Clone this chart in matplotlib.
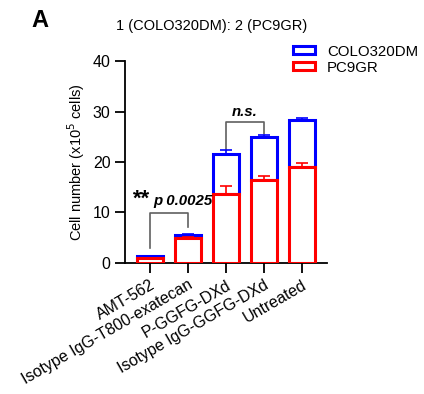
import matplotlib.pyplot as plt
import matplotlib.patches as mpatches

plt.rcParams['font.family'] = ['Liberation Sans', 'DejaVu Sans']

groups = ['AMT-562', 'Isotype IgG-T800-exatecan', 'P-GGFG-DXd',
          'Isotype IgG-GGFG-DXd', 'Untreated']
pc9gr = [0.9, 5.0, 13.7, 16.5, 18.95]
pc9gr_err = [0.1, 0.2, 1.5, 0.7, 0.8]
colo_total = [1.3, 5.6, 21.5, 24.95, 28.4]
colo_err = [0.1, 0.15, 0.8, 0.4, 0.4]

blue = '#0000ff'
red = '#ff0000'

fig = plt.figure(figsize=(4.24, 3.94), dpi=100)
ax = fig.add_axes([0.295, 0.333, 0.476, 0.512])

x = list(range(len(groups)))
w = 0.68
colo_part = [t - r for t, r in zip(colo_total, pc9gr)]
ax.bar(x, colo_part, w, bottom=pc9gr, facecolor='white', edgecolor=blue, linewidth=2.2, zorder=2)
ax.bar(x, pc9gr, w, facecolor='white', edgecolor=red, linewidth=2.2, zorder=3)
ax.errorbar(x, colo_total, yerr=[[0] * 5, colo_err], fmt='none', ecolor=blue,
            elinewidth=1.2, capsize=4, capthick=1.2, zorder=4)
ax.errorbar(x, pc9gr, yerr=[[0] * 5, pc9gr_err], fmt='none', ecolor=red,
            elinewidth=1.2, capsize=4, capthick=1.2, zorder=4)

# significance brackets
gray = '#606060'
ax.plot([0, 0, 1, 1], [2.85, 9.8, 9.8, 7.1], color=gray, lw=1.2)
ax.text(-0.27, 12.6, '**', fontsize=16, fontweight='bold', fontstyle='italic', ha='center', va='center')
ax.text(0.08, 12.2, 'p 0.0025', fontsize=10.8, fontweight='bold', fontstyle='italic', ha='left', va='center')
ax.plot([2, 2, 3, 3], [22.4, 28.0, 28.0, 25.6], color=gray, lw=1.2)
ax.text(2.5, 28.6, 'n.s.', fontsize=10.8, fontweight='bold', fontstyle='italic', ha='center', va='bottom')

ax.set_xlim(-0.66, 4.66)
ax.set_ylim(0, 40)
ax.set_yticks([0, 10, 20, 30, 40])
ax.set_xticks(x)
ax.set_xticklabels(groups, rotation=30, ha='right', rotation_mode='anchor', fontsize=11.5)
ax.tick_params(axis='both', direction='out', length=7, width=1.3, labelsize=11.5)
ax.spines['top'].set_visible(False)
ax.spines['right'].set_visible(False)
ax.spines['left'].set_linewidth(1.3)
ax.spines['bottom'].set_linewidth(1.3)
ax.set_ylabel('Cell number (x10$^5$ cells)', fontsize=10.5)

fig.text(0.5, 0.934, '1 (COLO320DM): 2 (PC9GR)', fontsize=10.5, ha='center', va='center')
fig.text(0.094, 0.949, 'A', fontsize=17, fontweight='bold', ha='center', va='center')

handles = [mpatches.Patch(facecolor='white', edgecolor=blue, linewidth=2.2, label='COLO320DM'),
           mpatches.Patch(facecolor='white', edgecolor=red, linewidth=2.2, label='PC9GR')]
fig.legend(handles=handles, loc='upper left', bbox_to_anchor=(0.69, 0.887), frameon=False,
           fontsize=10.8, handlelength=1.5, handleheight=0.45, handletextpad=0.8,
           labelspacing=0.15, borderpad=0, borderaxespad=0)

fig.savefig('out.png', dpi=100)
